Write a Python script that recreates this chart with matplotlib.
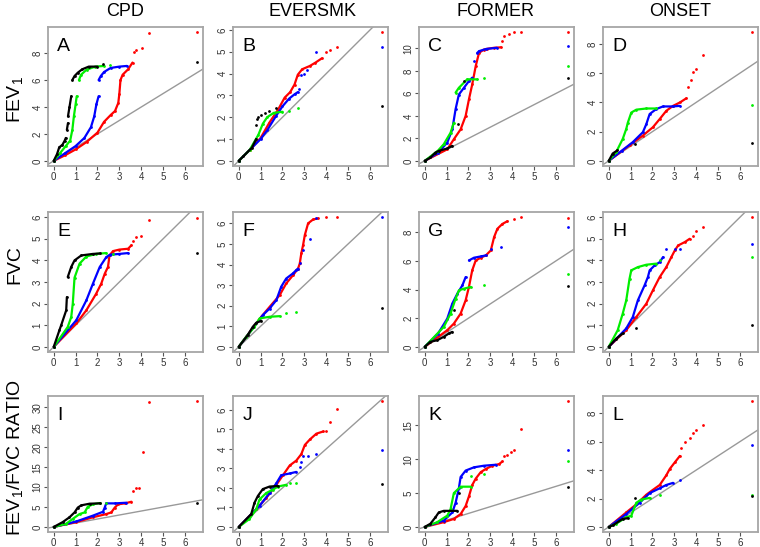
import numpy as np
import matplotlib
matplotlib.use('Agg')
import matplotlib.pyplot as plt

plt.rcParams['font.family'] = ['Liberation Sans', 'DejaVu Sans']
plt.rcParams['mathtext.fontset'] = 'custom'
plt.rcParams['mathtext.rm'] = 'Liberation Sans'
plt.rcParams['mathtext.it'] = 'Liberation Sans'

# column / row headings
col_titles = ['CPD', 'EVERSMK', 'FORMER', 'ONSET']
row_titles = ['FEV$_1$', 'FVC', 'FEV$_1$/FVC RATIO']
panel_letters = ['A', 'B', 'C', 'D', 'E', 'F', 'G', 'H', 'I', 'J', 'K', 'L']

# largest expected -log10(p) and observed maxima per panel
x_max = 6.56
y_max = [9.56, 5.9, 11.45, 8.8, 6.0, 6.3, 9.05, 6.0, 31.6, 6.45, 18.6, 8.85]
y_ticks = [[0, 2, 4, 6, 8], [0, 1, 2, 3, 4, 5, 6], [0, 2, 4, 6, 8, 10], [0, 2, 4, 6, 8],
           [0, 1, 2, 3, 4, 5, 6], [0, 1, 2, 3, 4, 5, 6], [0, 2, 4, 6, 8], [0, 1, 2, 3, 4, 5, 6],
           [0, 5, 10, 15, 20, 25, 30], [0, 1, 2, 3, 4, 5, 6], [0, 5, 10, 15], [0, 2, 4, 6, 8]]

# QQ traces (expected, observed); None = gap between runs of points
A_red = [(0, 0), (0.5, 0.4), (1.0, 0.85), (1.5, 1.4), (2.0, 2.1), (2.3, 2.9), (2.6, 3.4), (2.8, 3.7),
         (2.95, 4.3), (3.0, 5.0), (3.05, 6.0), (3.15, 6.4), (3.4, 6.8), (3.6, 7.3), None,
         (3.65, 8.1), None, (3.75, 8.25), None, (4.05, 8.4), None, (4.35, 9.5), None, (6.56, 9.56)]
A_blue = [(0, 0), (0.5, 0.55), (1.0, 1.1), (1.4, 1.7), (1.7, 2.5), (1.85, 3.3), (1.95, 4.2), (2.05, 4.8), None,
          (2.05, 6.0), (2.15, 6.3), (2.3, 6.6), (2.6, 6.9), (3.0, 7.0), (3.35, 7.05)]
A_green = [(0, 0), (0.3, 0.6), (0.55, 1.1), (0.75, 1.5), (0.85, 2.3), (0.92, 3.3), (1.0, 4.2), (1.05, 4.8), None,
           (1.15, 6.0), (1.25, 6.4), (1.5, 6.77), (1.9, 7.0), (2.3, 7.05), None, (2.55, 7.1)]
A_black = [(0, 0), (0.15, 0.5), (0.25, 1.0), (0.4, 1.2), (0.5, 1.5), (0.55, 1.7), None, (0.6, 2.3), (0.65, 2.8), None,
           (0.65, 3.3), (0.72, 4.0), (0.8, 4.8), None, (0.85, 6.0), (0.95, 6.3), (1.1, 6.55), (1.3, 6.8),
           (1.6, 7.0), (2.0, 7.0), None, (2.25, 7.2), None, (6.56, 7.34)]

B_red = [(0, 0), (0.5, 0.5), (1.0, 1.05), (1.4, 1.75), (1.8, 2.35), (2.1, 2.9), (2.35, 3.15), (2.55, 3.5),
         (2.7, 3.95), (2.9, 4.2), (3.25, 4.35), (3.5, 4.5), (3.8, 4.7), None, (4.0, 5.0), None, (4.17, 5.1), None,
         (4.47, 5.24), None, (6.56, 5.9)]
B_blue = [(0, 0), (1.0, 1.0), (1.3, 1.4), (1.7, 2.05), (2.0, 2.5), (2.3, 2.85), (2.55, 3.05), (2.7, 3.15), None,
          (2.75, 3.3), None, (2.85, 3.95), None, (3.0, 4.0), None, (3.1, 4.15), None, (3.55, 5.0), None, (6.56, 5.22)]
B_green = [(0, 0), (0.5, 0.5), (0.9, 1.2), (1.1, 1.7), (1.3, 2.0), (1.6, 2.2), (2.0, 2.25), None,
           (2.3, 2.3), None, (2.7, 2.4)]
B_black = [(0, 0), (0.2, 0.2), (0.6, 0.6), (0.8, 1.0), None, (0.8, 1.65), None, (0.85, 1.9), None, (0.9, 2.0), None,
           (1.0, 2.1), None, (1.2, 2.2), None, (1.4, 2.3), None, (1.7, 2.4), None, (6.56, 2.5)]

C_red = [(0, 0), (1.03, 1.03), (1.33, 1.92), (1.64, 2.8), (1.87, 4.0), (2.02, 5.47), (2.17, 6.8), (2.33, 8.43),
         (2.48, 9.6), (2.7, 9.9), (2.86, 9.97), (3.17, 10.06), (3.48, 10.1), None, (3.55, 10.65), None,
         (3.63, 11.1), None, (3.86, 11.3), None, (4.1, 11.45), None, (4.4, 11.45), None, (6.56, 11.48)]
C_blue = [(0, 0), (0.6, 0.7), (1.03, 1.63), (1.26, 2.8), (1.41, 4.6), (1.56, 5.9), (1.79, 6.5), (2.02, 7.1),
          (2.17, 7.4), None, (2.25, 8.9), None, (2.4, 9.6), (2.48, 9.76), (2.8, 9.95), (3.3, 10.06), None,
          (6.56, 10.2)]
C_green = [(0, 0), (0.6, 0.9), (0.87, 1.48), (1.18, 2.5), (1.33, 3.4), None, (1.41, 6.07), (1.56, 6.5),
           (1.94, 7.25), (2.4, 7.25), None, (2.7, 7.4), None, (6.56, 8.43)]
C_black = [(0, 0), (0.26, 0.3), (0.49, 0.74), (0.64, 0.89), (1.03, 1.1), (1.26, 1.33), None, (1.5, 3.25), None,
           (1.8, 7.1), None, (6.56, 7.34)]

D_red = [(0, 0), (0.95, 1.06), (1.56, 1.73), (2.02, 2.3), (2.33, 2.86), (2.63, 3.42), (2.94, 3.76), (3.25, 3.99),
         (3.55, 4.28), None, (3.63, 5.07), None, (3.75, 5.52), None, (3.86, 6.08), None, (4.0, 6.3), None,
         (4.32, 7.25), None, (6.56, 8.8)]
D_blue = [(0, 0), (0.6, 0.7), (1.1, 1.28), (1.56, 1.96), (1.72, 2.52), (1.87, 3.2), (2.17, 3.54), (2.48, 3.72),
          (2.94, 3.72), (3.25, 3.76)]
D_green = [(0, 0), (0.34, 0.6), (0.64, 1.5), (0.8, 2.18), (0.87, 2.6), (1.03, 3.3), (1.26, 3.5), (1.72, 3.58),
           (2.17, 3.58), None, (6.56, 3.8)]
D_black = [(0, 0), (0.18, 0.5), (0.4, 0.72), None, (1.18, 1.17), None, (6.56, 1.19)]

E_red = [(0, 0), (1.03, 1.08), (1.49, 1.69), (1.94, 2.46), (2.17, 2.92), (2.33, 3.38), (2.48, 3.7), (2.55, 4.23),
         (2.71, 4.43), (3.0, 4.5), (3.4, 4.54), (3.55, 4.7), None, (3.63, 4.92), None, (3.78, 5.08), None,
         (4.0, 5.15), None, (4.35, 5.88), None, (6.56, 5.97)]
E_blue = [(0, 0), (1.03, 1.23), (1.49, 2.15), (1.79, 2.92), (2.1, 3.69), (2.4, 4.15), (2.56, 4.26), (3.0, 4.3),
          (3.4, 4.34)]
E_green = [(0, 0), (0.64, 0.92), (0.8, 1.38), (0.87, 2.0), (0.95, 3.2), (1.18, 3.85), (1.49, 4.18), (1.94, 4.3),
           (2.4, 4.34), None, (2.7, 4.3)]
E_black = [(0, 0), (0.26, 0.77), (0.34, 1.0), (0.57, 1.69), (0.6, 2.3), None, (0.64, 3.23), (0.8, 3.7), (0.95, 4.0),
           (1.26, 4.23), (1.79, 4.3), (2.1, 4.32), None, (6.56, 4.35)]

F_red = [(0, 0), (1.03, 1.46), (1.41, 1.94), (1.87, 2.51), (2.17, 3.08), (2.48, 3.48), (2.71, 3.8), (2.79, 4.05),
         (2.86, 4.54), (2.94, 4.94), (3.02, 5.43), (3.17, 6.0), (3.4, 6.19), (3.63, 6.24), None, (4.0, 6.29), None,
         (4.47, 6.29)]
F_blue = [(0, 0), (1.1, 1.54), (1.41, 1.86), (1.72, 2.27), (1.94, 2.92), (2.17, 3.32), (2.48, 3.57), (2.63, 3.73),
          (2.71, 3.8), None, (2.79, 4.05), None, (2.94, 4.7), None, (3.25, 5.22), None, (3.55, 6.24), None,
          (6.56, 6.3)]
F_green = [(0, 0), (0.34, 0.49), (0.72, 0.97), (0.95, 1.38), (1.41, 1.46), (1.87, 1.49), None, (2.17, 1.62), None,
           (2.63, 1.7)]
F_black = [(0, 0), (0.41, 0.57), (0.64, 0.97), (0.8, 1.17), (1.03, 1.26), None, (6.56, 1.88)]

G_red = [(0, 0), (1.03, 1.16), (1.33, 1.62), (1.64, 2.32), (1.87, 3.25), (2.02, 4.18), (2.17, 5.34), (2.33, 6.03),
         (2.56, 6.22), (2.79, 6.38), (3.02, 6.73), (3.17, 7.66), (3.32, 8.24), (3.55, 8.58), (3.78, 8.77), None,
         (4.09, 8.89), None, (4.4, 9.05), None, (6.56, 9.0)]
G_blue = [(0, 0), (0.6, 0.9), (1.03, 1.97), (1.26, 3.02), (1.49, 3.71), (1.72, 4.29), (1.87, 4.87), None,
          (2.02, 6.03), (2.25, 6.22), (2.56, 6.31), (2.79, 6.38), None, (3.02, 6.84), None, (3.48, 7.0), None,
          (6.56, 8.35)]
G_green = [(0, 0), (0.87, 1.39), (1.18, 2.32), (1.41, 3.36), (1.56, 3.94), (1.79, 4.06), (2.1, 4.18), None,
           (2.7, 4.29), None, (6.56, 5.06)]
G_black = [(0, 0), (0.26, 0.35), (0.57, 0.46), (0.87, 0.7), (1.1, 0.93), (1.26, 1.04), None, (1.33, 2.55), None,
           (6.56, 4.25)]

H_red = [(0, 0), (0.8, 0.77), (1.26, 1.38), (1.72, 2.0), (2.02, 2.62), (2.33, 3.23), (2.63, 3.69), (2.86, 4.15),
         (3.02, 4.46), (3.17, 4.69), (3.48, 4.85), (3.7, 5.0), None, (3.86, 5.15), None, (4.0, 5.38), None,
         (4.32, 5.54), None, (6.56, 6.0)]
H_blue = [(0, 0), (0.8, 0.85), (1.1, 1.38), (1.33, 2.15), (1.64, 2.85), (1.79, 3.23), (1.87, 3.54), (2.1, 3.77),
          (2.33, 3.92), (2.48, 4.15), None, (2.63, 4.54), None, (3.02, 4.54), None, (3.25, 4.54), None, (6.56, 4.74)]
H_green = [(0, 0), (0.41, 0.77), (0.64, 1.54), (0.8, 2.15), (0.95, 3.15), (1.03, 3.54), (1.33, 3.69), (1.72, 3.8),
           (2.17, 3.85), None, (2.33, 4.0), None, (6.56, 4.15)]
H_black = [(0, 0), (0.34, 0.38), (0.64, 0.62), None, (1.26, 0.88), None, (6.56, 1.03)]

I_red = [(0, 0), (1.03, 1.22), (1.79, 2.43), (2.4, 3.24), (2.63, 3.65), (2.79, 4.87), (2.94, 5.68), (3.25, 5.92),
         (3.55, 6.33), None, (3.63, 9.0), None, (3.78, 9.8), None, (3.9, 9.9), None, (4.06, 18.8), None,
         (4.35, 31.4), None, (6.56, 31.6)]
I_blue = [(0, 0), (1.03, 1.38), (1.79, 2.84), (2.25, 3.81), (2.33, 4.87), (2.4, 5.92), (2.79, 5.92), (3.32, 6.08)]
I_green = [(0, 0), (0.57, 0.81), (0.87, 2.03), (1.18, 3.24), (1.41, 3.65), (1.56, 5.1), (1.79, 5.68), (2.1, 6.0),
           None, (2.4, 5.9)]
I_black = [(0, 0), (0.41, 1.22), (0.72, 2.43), (0.95, 3.65), (1.1, 4.87), (1.26, 5.43), (1.64, 5.84), (2.1, 5.92),
           None, (6.56, 6.08)]

J_red = [(0, 0), (0.8, 0.91), (1.26, 1.49), (1.72, 2.16), (2.02, 2.65), (2.33, 3.15), (2.63, 3.4), (2.86, 3.73),
         (3.02, 4.2), (3.25, 4.48), (3.55, 4.78), (3.86, 4.89), None, (4.0, 4.93), None, (4.17, 5.39), None,
         (4.47, 6.02), None, (6.56, 6.47)]
J_blue = [(0, 0), (0.95, 1.08), (1.41, 1.74), (1.72, 2.24), (1.94, 2.65), (2.33, 2.74), (2.63, 2.82), None,
          (2.79, 3.07), None, (2.86, 3.32), None, (2.94, 3.65), None, (3.17, 3.65), None, (3.55, 3.73), None,
          (6.56, 3.96)]
J_green = [(0, 0), (0.49, 0.41), (0.8, 0.91), (0.95, 1.41), (1.26, 1.74), (1.56, 1.91), (1.79, 2.07), (2.17, 2.16),
           None, (2.33, 2.27), None, (2.63, 2.27)]
J_black = [(0, 0), (0.57, 0.66), (0.72, 1.24), (0.87, 1.58), (1.1, 1.94), (1.41, 2.07), (1.79, 2.1), None,
           (6.56, 2.2)]

K_red = [(0, 0), (0.87, 0.71), (1.33, 1.19), (1.64, 1.9), (1.87, 3.1), (2.02, 4.52), (2.17, 6.19), (2.33, 7.14),
         (2.56, 8.1), (2.79, 8.57), (3.09, 9.05), (3.4, 9.29), (3.55, 9.67), None, (3.63, 10.48), None,
         (3.78, 10.7), None, (3.94, 11.05), None, (4.09, 11.43), None, (4.4, 14.5), None, (6.56, 18.57)]
K_blue = [(0, 0), (0.87, 0.95), (1.26, 2.14), (1.41, 3.57), (1.56, 5.71), (1.64, 7.38), (1.87, 8.33), (2.25, 8.81),
          (2.71, 9.05), (3.25, 9.19), None, (6.56, 11.43)]
K_green = [(0, 0), (0.57, 0.71), (1.03, 1.67), (1.18, 2.62), (1.33, 5.0), (1.64, 5.95), (2.1, 5.95), None,
           (2.1, 7.47), None, (2.71, 7.76), None, (6.56, 9.76)]
K_black = [(0, 0), (0.26, 0.48), (0.49, 1.43), (0.64, 2.14), (0.87, 2.38), (1.49, 2.38), None, (1.56, 5.0), None,
           (6.56, 5.95)]

L_red = [(0, 0), (0.8, 1.02), (1.26, 1.59), (1.72, 2.27), (2.02, 2.61), (2.33, 2.95), (2.63, 3.63), (2.79, 4.08),
         (3.02, 4.54), (3.25, 4.99), None, (3.32, 5.56), None, (3.48, 6.0), None, (3.7, 6.24), None, (3.86, 6.58),
         None, (4.0, 6.8), None, (4.32, 7.14), None, (6.56, 8.84)]
L_blue = [(0, 0), (0.8, 0.91), (1.41, 1.7), (1.87, 2.38), (2.33, 2.72), (2.63, 2.95), (2.94, 3.1), None,
          (3.25, 3.29), None, (6.56, 5.74)]
L_green = [(0, 0), (0.34, 0.23), (0.8, 0.68), (1.03, 0.79), (1.26, 1.7), (1.49, 1.93), (1.87, 2.04), None,
           (2.33, 2.27), None, (6.56, 2.27)]
L_black = [(0, 0), (0.18, 0.11), (0.64, 0.57), (0.87, 0.61), None, (1.18, 2.04), None, (6.56, 2.15)]

panels = [
    (A_red, A_blue, A_green, A_black), (B_red, B_blue, B_green, B_black),
    (C_red, C_blue, C_green, C_black), (D_red, D_blue, D_green, D_black),
    (E_red, E_blue, E_green, E_black), (F_red, F_blue, F_green, F_black),
    (G_red, G_blue, G_green, G_black), (H_red, H_blue, H_green, H_black),
    (I_red, I_blue, I_green, I_black), (J_red, J_blue, J_green, J_black),
    (K_red, K_blue, K_green, K_black), (L_red, L_blue, L_green, L_black),
]
series_colors = ['#ff0000', '#0000ff', '#00ee00', '#000000']


def to_xy(trace):
    xs = [np.nan if p is None else p[0] for p in trace]
    ys = [np.nan if p is None else p[1] for p in trace]
    return np.array(xs), np.array(ys)


W, H = 760, 547
fig = plt.figure(figsize=(W / 100, H / 100), dpi=100)

col_left = [48, 233, 419, 603]
row_top = [27, 212, 396]
row_h = [139, 140, 136]
pw = 155
frame_col = '#a6a6a6'

for i, traces in enumerate(panels):
    r, c = divmod(i, 4)
    ph = row_h[r]
    ax = fig.add_axes([col_left[c] / W, 1 - (row_top[r] + ph) / H, pw / W, ph / H])
    ax.set_xlim(-0.04 * x_max, 1.04 * x_max)
    ax.set_ylim(-0.04 * y_max[i], 1.04 * y_max[i])
    ax.axline((0, 0), slope=1, color='#999999', lw=1.0, zorder=1)

    for trace, col in zip(traces, series_colors):
        xs, ys = to_xy(trace)
        ax.plot(xs, ys, color=col, lw=1.6, marker='o', ms=2.0, mew=0, solid_capstyle='round', zorder=2)

    ax.set_xticks(range(7))
    ax.set_yticks(y_ticks[i])
    for s in ax.spines.values():
        s.set_color(frame_col)
        s.set_linewidth(1.3)
    ax.tick_params(colors='#555555', labelcolor='#333333', labelsize=7, length=3, width=0.8, pad=1.0)
    for lab in ax.get_yticklabels():
        lab.set_rotation(90)
        lab.set_va('center')
    ax.text(0.06, 0.86, panel_letters[i], transform=ax.transAxes, fontsize=14, ha='left', va='center')

col_centers = [125, 312, 496, 680]
for c, t in enumerate(col_titles):
    fig.text(col_centers[c] / W, 1 - 12 / H, t, fontsize=13, ha='center', va='center')

row_centers = [100, 265, 458]
for r, t in enumerate(row_titles):
    fig.text(15 / W, 1 - row_centers[r] / H, t, fontsize=14, rotation=90, ha='center', va='center')

fig.savefig('out.png', dpi=100)
